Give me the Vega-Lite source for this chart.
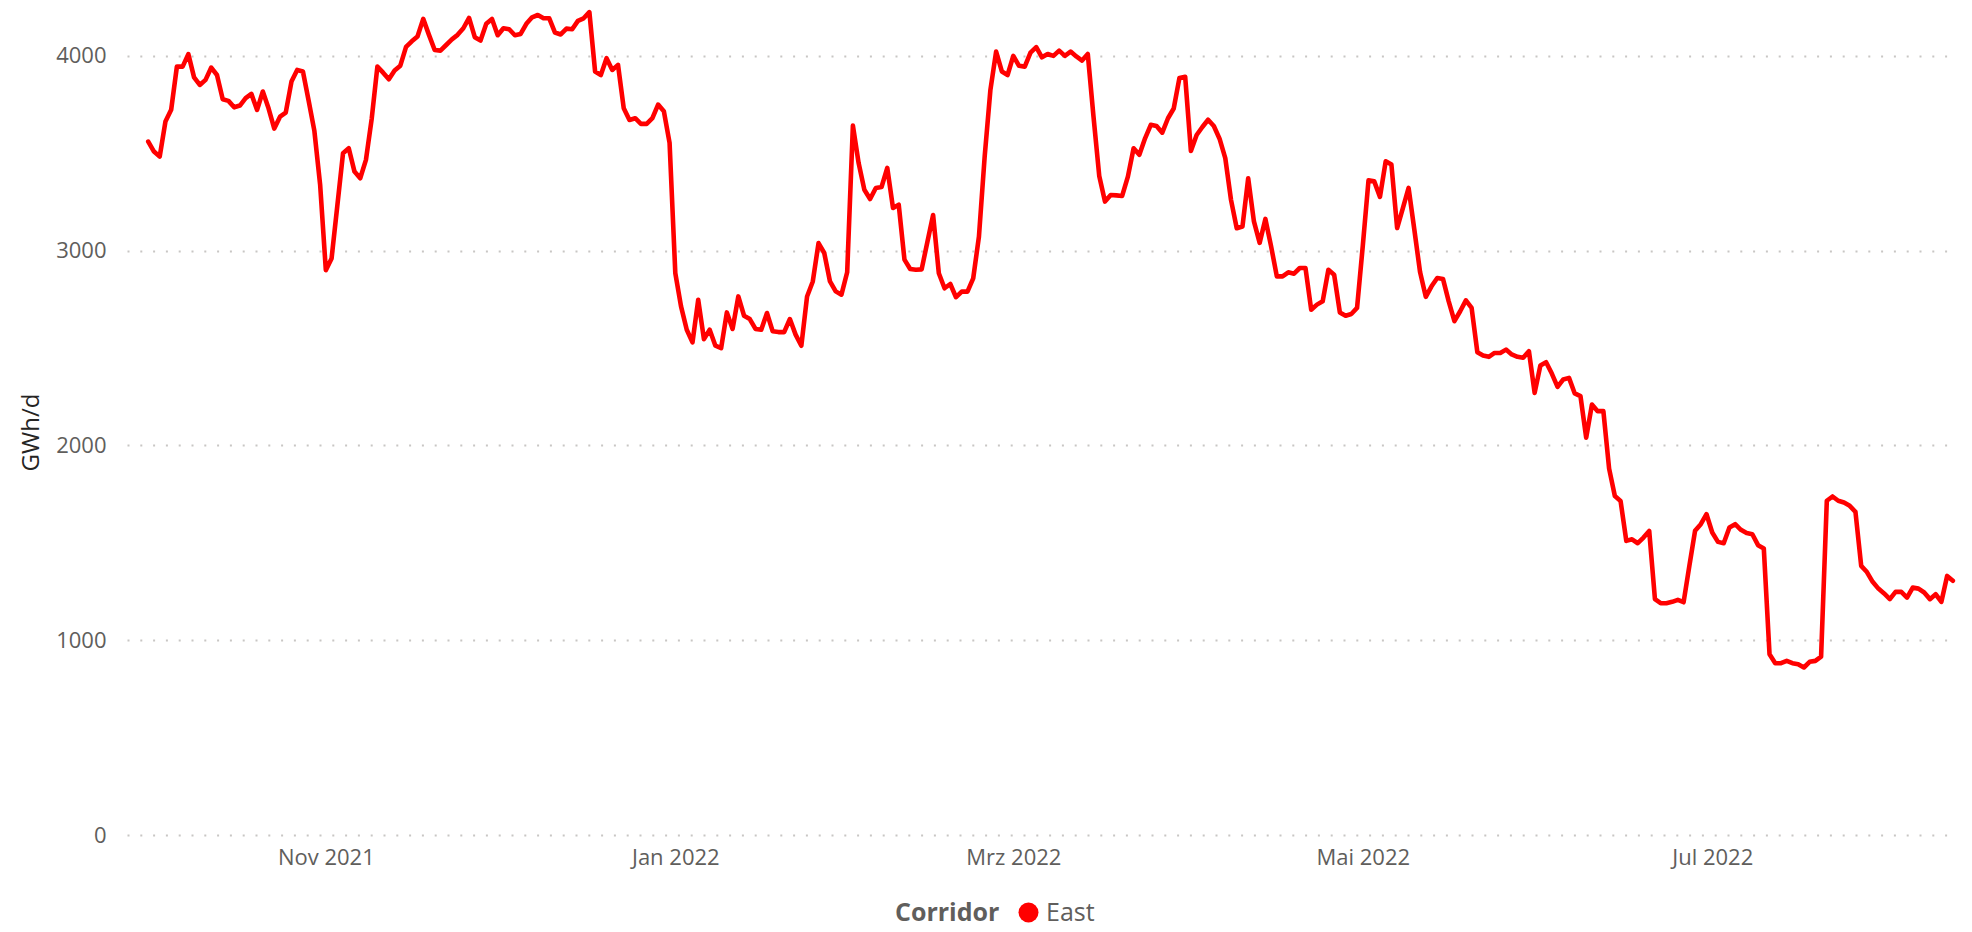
{
"$schema": "https://vega.github.io/schema/vega-lite/v6.json",
"width": 1828, "height": 835,
"autosize": {"type": "none"},
"padding": {"left": 127, "top": 0, "right": 17, "bottom": 97},
"background": "white",
"config": {"view": {"stroke": null}, "font": "Open Sans"},
"data": {"values": [
{"date":"2021-10-01","value":3560},{"date":"2021-10-02","value":3509},{"date":"2021-10-03","value":3483},{"date":"2021-10-04","value":3663},{"date":"2021-10-05","value":3723},{"date":"2021-10-06","value":3945},{"date":"2021-10-07","value":3945},{"date":"2021-10-08","value":4009},{"date":"2021-10-09","value":3890},{"date":"2021-10-10","value":3851},{"date":"2021-10-11","value":3877},{"date":"2021-10-12","value":3940},{"date":"2021-10-13","value":3902},{"date":"2021-10-14","value":3777},{"date":"2021-10-15","value":3769},{"date":"2021-10-16","value":3736},{"date":"2021-10-17","value":3745},{"date":"2021-10-18","value":3783},{"date":"2021-10-19","value":3805},{"date":"2021-10-20","value":3723},{"date":"2021-10-21","value":3817},{"date":"2021-10-22","value":3731},{"date":"2021-10-23","value":3627},{"date":"2021-10-24","value":3688},{"date":"2021-10-25","value":3709},{"date":"2021-10-26","value":3868},{"date":"2021-10-27","value":3928},{"date":"2021-10-28","value":3920},{"date":"2021-10-29","value":3770},{"date":"2021-10-30","value":3615},{"date":"2021-10-31","value":3340},
{"date":"2021-11-01","value":2900},{"date":"2021-11-02","value":2960},{"date":"2021-11-03","value":3230},{"date":"2021-11-04","value":3500},{"date":"2021-11-05","value":3526},{"date":"2021-11-06","value":3406},{"date":"2021-11-07","value":3372},{"date":"2021-11-08","value":3466},{"date":"2021-11-09","value":3676},{"date":"2021-11-10","value":3945},{"date":"2021-11-11","value":3914},{"date":"2021-11-12","value":3880},{"date":"2021-11-13","value":3925},{"date":"2021-11-14","value":3950},{"date":"2021-11-15","value":4046},{"date":"2021-11-16","value":4075},{"date":"2021-11-17","value":4100},{"date":"2021-11-18","value":4190},{"date":"2021-11-19","value":4108},{"date":"2021-11-20","value":4030},{"date":"2021-11-21","value":4027},{"date":"2021-11-22","value":4056},{"date":"2021-11-23","value":4085},{"date":"2021-11-24","value":4108},{"date":"2021-11-25","value":4142},{"date":"2021-11-26","value":4195},{"date":"2021-11-27","value":4096},{"date":"2021-11-28","value":4079},{"date":"2021-11-29","value":4165},{"date":"2021-11-30","value":4190},
{"date":"2021-12-01","value":4106},{"date":"2021-12-02","value":4142},{"date":"2021-12-03","value":4137},{"date":"2021-12-04","value":4106},{"date":"2021-12-05","value":4113},{"date":"2021-12-06","value":4165},{"date":"2021-12-07","value":4198},{"date":"2021-12-08","value":4210},{"date":"2021-12-09","value":4193},{"date":"2021-12-10","value":4193},{"date":"2021-12-11","value":4120},{"date":"2021-12-12","value":4110},{"date":"2021-12-13","value":4140},{"date":"2021-12-14","value":4137},{"date":"2021-12-15","value":4180},{"date":"2021-12-16","value":4193},{"date":"2021-12-17","value":4225},{"date":"2021-12-18","value":3920},{"date":"2021-12-19","value":3902},{"date":"2021-12-20","value":3988},{"date":"2021-12-21","value":3928},{"date":"2021-12-22","value":3954},{"date":"2021-12-23","value":3731},{"date":"2021-12-24","value":3671},{"date":"2021-12-25","value":3680},{"date":"2021-12-26","value":3651},{"date":"2021-12-27","value":3651},{"date":"2021-12-28","value":3680},{"date":"2021-12-29","value":3750},{"date":"2021-12-30","value":3716},{"date":"2021-12-31","value":3553},
{"date":"2022-01-01","value":2885},{"date":"2022-01-02","value":2714},{"date":"2022-01-03","value":2594},{"date":"2022-01-04","value":2529},{"date":"2022-01-05","value":2748},{"date":"2022-01-06","value":2546},{"date":"2022-01-07","value":2594},{"date":"2022-01-08","value":2512},{"date":"2022-01-09","value":2500},{"date":"2022-01-10","value":2683},{"date":"2022-01-11","value":2598},{"date":"2022-01-12","value":2765},{"date":"2022-01-13","value":2666},{"date":"2022-01-14","value":2649},{"date":"2022-01-15","value":2598},{"date":"2022-01-16","value":2594},{"date":"2022-01-17","value":2680},{"date":"2022-01-18","value":2586},{"date":"2022-01-19","value":2582},{"date":"2022-01-20","value":2582},{"date":"2022-01-21","value":2649},{"date":"2022-01-22","value":2569},{"date":"2022-01-23","value":2512},{"date":"2022-01-24","value":2765},{"date":"2022-01-25","value":2842},{"date":"2022-01-26","value":3039},{"date":"2022-01-27","value":2988},{"date":"2022-01-28","value":2842},{"date":"2022-01-29","value":2791},{"date":"2022-01-30","value":2774},{"date":"2022-01-31","value":2889},
{"date":"2022-02-01","value":3642},{"date":"2022-02-02","value":3450},{"date":"2022-02-03","value":3313},{"date":"2022-02-04","value":3265},{"date":"2022-02-05","value":3322},{"date":"2022-02-06","value":3327},{"date":"2022-02-07","value":3425},{"date":"2022-02-08","value":3219},{"date":"2022-02-09","value":3236},{"date":"2022-02-10","value":2954},{"date":"2022-02-11","value":2906},{"date":"2022-02-12","value":2902},{"date":"2022-02-13","value":2904},{"date":"2022-02-14","value":3045},{"date":"2022-02-15","value":3183},{"date":"2022-02-16","value":2884},{"date":"2022-02-17","value":2807},{"date":"2022-02-18","value":2829},{"date":"2022-02-19","value":2761},{"date":"2022-02-20","value":2790},{"date":"2022-02-21","value":2790},{"date":"2022-02-22","value":2858},{"date":"2022-02-23","value":3072},{"date":"2022-02-24","value":3483},{"date":"2022-02-25","value":3825},{"date":"2022-02-26","value":4022},{"date":"2022-02-27","value":3920},{"date":"2022-02-28","value":3902},
{"date":"2022-03-01","value":4000},{"date":"2022-03-02","value":3949},{"date":"2022-03-03","value":3945},{"date":"2022-03-04","value":4017},{"date":"2022-03-05","value":4045},{"date":"2022-03-06","value":3993},{"date":"2022-03-07","value":4010},{"date":"2022-03-08","value":4000},{"date":"2022-03-09","value":4027},{"date":"2022-03-10","value":4000},{"date":"2022-03-11","value":4022},{"date":"2022-03-12","value":3997},{"date":"2022-03-13","value":3976},{"date":"2022-03-14","value":4010},{"date":"2022-03-15","value":3688},{"date":"2022-03-16","value":3384},{"date":"2022-03-17","value":3252},{"date":"2022-03-18","value":3286},{"date":"2022-03-19","value":3284},{"date":"2022-03-20","value":3281},{"date":"2022-03-21","value":3380},{"date":"2022-03-22","value":3526},{"date":"2022-03-23","value":3492},{"date":"2022-03-24","value":3577},{"date":"2022-03-25","value":3646},{"date":"2022-03-26","value":3640},{"date":"2022-03-27","value":3606},{"date":"2022-03-28","value":3680},{"date":"2022-03-29","value":3730},{"date":"2022-03-30","value":3887},{"date":"2022-03-31","value":3893},
{"date":"2022-04-01","value":3512},{"date":"2022-04-02","value":3594},{"date":"2022-04-03","value":3635},{"date":"2022-04-04","value":3672},{"date":"2022-04-05","value":3640},{"date":"2022-04-06","value":3575},{"date":"2022-04-07","value":3475},{"date":"2022-04-08","value":3261},{"date":"2022-04-09","value":3115},{"date":"2022-04-10","value":3124},{"date":"2022-04-11","value":3372},{"date":"2022-04-12","value":3150},{"date":"2022-04-13","value":3040},{"date":"2022-04-14","value":3163},{"date":"2022-04-15","value":3022},{"date":"2022-04-16","value":2868},{"date":"2022-04-17","value":2868},{"date":"2022-04-18","value":2889},{"date":"2022-04-19","value":2882},{"date":"2022-04-20","value":2911},{"date":"2022-04-21","value":2911},{"date":"2022-04-22","value":2697},{"date":"2022-04-23","value":2723},{"date":"2022-04-24","value":2740},{"date":"2022-04-25","value":2902},{"date":"2022-04-26","value":2877},{"date":"2022-04-27","value":2683},{"date":"2022-04-28","value":2666},{"date":"2022-04-29","value":2675},{"date":"2022-04-30","value":2706},
{"date":"2022-05-01","value":3024},{"date":"2022-05-02","value":3361},{"date":"2022-05-03","value":3356},{"date":"2022-05-04","value":3276},{"date":"2022-05-05","value":3459},{"date":"2022-05-06","value":3442},{"date":"2022-05-07","value":3116},{"date":"2022-05-08","value":3219},{"date":"2022-05-09","value":3322},{"date":"2022-05-10","value":3108},{"date":"2022-05-11","value":2890},{"date":"2022-05-12","value":2763},{"date":"2022-05-13","value":2817},{"date":"2022-05-14","value":2860},{"date":"2022-05-15","value":2855},{"date":"2022-05-16","value":2740},{"date":"2022-05-17","value":2638},{"date":"2022-05-18","value":2689},{"date":"2022-05-19","value":2745},{"date":"2022-05-20","value":2706},{"date":"2022-05-21","value":2479},{"date":"2022-05-22","value":2462},{"date":"2022-05-23","value":2455},{"date":"2022-05-24","value":2475},{"date":"2022-05-25","value":2475},{"date":"2022-05-26","value":2492},{"date":"2022-05-27","value":2467},{"date":"2022-05-28","value":2455},{"date":"2022-05-29","value":2450},{"date":"2022-05-30","value":2484},{"date":"2022-05-31","value":2270},
{"date":"2022-06-01","value":2410},{"date":"2022-06-02","value":2427},{"date":"2022-06-03","value":2369},{"date":"2022-06-04","value":2301},{"date":"2022-06-05","value":2339},{"date":"2022-06-06","value":2347},{"date":"2022-06-07","value":2267},{"date":"2022-06-08","value":2253},{"date":"2022-06-09","value":2040},{"date":"2022-06-10","value":2210},{"date":"2022-06-11","value":2176},{"date":"2022-06-12","value":2176},{"date":"2022-06-13","value":1881},{"date":"2022-06-14","value":1740},{"date":"2022-06-15","value":1715},{"date":"2022-06-16","value":1510},{"date":"2022-06-17","value":1518},{"date":"2022-06-18","value":1498},{"date":"2022-06-19","value":1527},{"date":"2022-06-20","value":1561},{"date":"2022-06-21","value":1211},{"date":"2022-06-22","value":1190},{"date":"2022-06-23","value":1190},{"date":"2022-06-24","value":1197},{"date":"2022-06-25","value":1207},{"date":"2022-06-26","value":1195},{"date":"2022-06-27","value":1380},{"date":"2022-06-28","value":1562},{"date":"2022-06-29","value":1596},{"date":"2022-06-30","value":1647},
{"date":"2022-07-01","value":1553},{"date":"2022-07-02","value":1505},{"date":"2022-07-03","value":1498},{"date":"2022-07-04","value":1579},{"date":"2022-07-05","value":1596},{"date":"2022-07-06","value":1567},{"date":"2022-07-07","value":1550},{"date":"2022-07-08","value":1544},{"date":"2022-07-09","value":1488},{"date":"2022-07-10","value":1471},{"date":"2022-07-11","value":928},{"date":"2022-07-12","value":882},{"date":"2022-07-13","value":882},{"date":"2022-07-14","value":894},{"date":"2022-07-15","value":882},{"date":"2022-07-16","value":877},{"date":"2022-07-17","value":860},{"date":"2022-07-18","value":889},{"date":"2022-07-19","value":894},{"date":"2022-07-20","value":916},{"date":"2022-07-21","value":1716},{"date":"2022-07-22","value":1738},{"date":"2022-07-23","value":1716},{"date":"2022-07-24","value":1707},{"date":"2022-07-25","value":1690},{"date":"2022-07-26","value":1659},{"date":"2022-07-27","value":1382},{"date":"2022-07-28","value":1350},{"date":"2022-07-29","value":1300},{"date":"2022-07-30","value":1265},{"date":"2022-07-31","value":1240},
{"date":"2022-08-01","value":1211},{"date":"2022-08-02","value":1248},{"date":"2022-08-03","value":1248},{"date":"2022-08-04","value":1219},{"date":"2022-08-05","value":1270},{"date":"2022-08-06","value":1265},{"date":"2022-08-07","value":1245},{"date":"2022-08-08","value":1211},{"date":"2022-08-09","value":1236},{"date":"2022-08-10","value":1197},{"date":"2022-08-11","value":1330},{"date":"2022-08-12","value":1305}
]},
"mark": {"type": "line", "strokeWidth": 4.6, "strokeJoin": "round", "strokeCap": "round"},
"encoding": {
  "x": {"field": "date", "type": "temporal",
    "scale": {"type": "utc", "domain": [{"year": 2021, "month": 9, "date": 27, "hours": 7, "utc": true}, {"year": 2022, "month": 8, "date": 12, "hours": 9, "utc": true}]},
    "axis": {"title": null, "domain": false, "ticks": false, "grid": false,
      "values": [{"year": 2021, "month": 11, "date": 1, "utc": true}, {"year": 2022, "month": 1, "date": 1, "utc": true}, {"year": 2022, "month": 3, "date": 1, "utc": true}, {"year": 2022, "month": 5, "date": 1, "utc": true}, {"year": 2022, "month": 7, "date": 1, "utc": true}],
      "labelExpr": "['Jan','Feb','Mrz','Apr','Mai','Jun','Jul','Aug','Sep','Okt','Nov','Dez'][utcmonth(datum.value)] + ' ' + utcyear(datum.value)",
      "labelFontSize": 22, "labelColor": "#605E5C", "labelPadding": 12, "labelFont": "Open Sans"}},
  "y": {"field": "value", "type": "quantitative",
    "scale": {"domain": [0, 4287], "nice": false, "zero": true},
    "axis": {"title": "GWh/d", "values": [0, 1000, 2000, 3000, 4000], "format": "d", "domain": false, "ticks": false,
      "grid": true, "gridDash": [2, 10.8], "gridColor": "#C8C6C4", "gridWidth": 2,
      "labelFontSize": 22, "labelColor": "#605E5C", "labelPadding": 21, "labelFont": "Open Sans",
      "titleFontSize": 24, "titleFontWeight": "normal", "titleColor": "#252423", "titleFont": "Open Sans", "titlePadding": 12, "titleY": 432}},
  "color": {"datum": "East", "type": "nominal", "title": "Corridor",
    "scale": {"range": ["#FF0000"]},
    "legend": {"orient": "none", "legendX": 768, "legendY": 900, "direction": "horizontal", "titleOrient": "left",
      "titleFontSize": 25, "titleFontWeight": "bold", "titleColor": "#605E5C", "titleFont": "Open Sans", "titlePadding": 16,
      "labelFontSize": 25, "labelColor": "#605E5C", "labelFont": "Open Sans", "labelOffset": 5,
      "symbolType": "circle", "symbolSize": 400, "symbolFillColor": "#FF0000", "symbolStrokeWidth": 0,
      "encode": {"symbols": {"update": {"fill": {"value": "#FF0000"}, "strokeWidth": {"value": 0}}}}}}
}
}
